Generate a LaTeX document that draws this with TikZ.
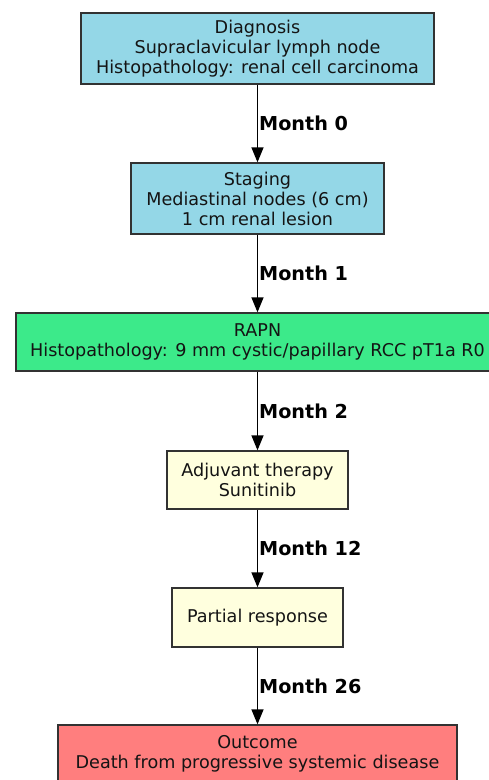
\documentclass[tikz,border=0pt]{standalone}
\usepackage{fontspec}
\setmainfont{DejaVu Sans}
\usetikzlibrary{arrows.meta}
\definecolor{stepblue}{RGB}{148,215,231}
\definecolor{stepgreen}{RGB}{60,234,138}
\definecolor{stepyellow}{RGB}{255,255,222}
\definecolor{stepred}{RGB}{255,126,126}
\definecolor{edge}{RGB}{50,50,50}
\definecolor{ink}{RGB}{20,20,20}

\begin{document}
\begin{tikzpicture}[x=1pt,y=-1pt,
    box/.style={draw=edge,line width=1.3pt,inner sep=0pt,align=center,text=ink,
      font=\fontsize{17.6}{20}\selectfont},
    flow/.style={-{Triangle[length=15pt,width=12pt]},line width=1.3pt,black},
    month/.style={anchor=west,inner sep=1pt,font=\fontsize{19.2}{21}\selectfont\bfseries}]
  \useasboundingbox (0,0) rectangle (489,780);
  \clip (0,0) rectangle (489,780);
  \def\cx{257.5}
  \node[box,fill=stepblue,minimum width=353,minimum height=71] (diag) at (\cx,48.5)
     {Diagnosis\\Supraclavicular lymph node\\Histopathology: renal cell carcinoma};
  \node[box,fill=stepblue,minimum width=253,minimum height=71] (stag) at (\cx,198.5)
     {Staging\\Mediastinal nodes (6 cm)\\1 cm renal lesion};
  \node[box,fill=stepgreen,minimum width=483,minimum height=58] (rapn) at (\cx,342)
     {RAPN\\Histopathology: 9 mm cystic/papillary RCC pT1a R0};
  \node[box,fill=stepyellow,minimum width=181,minimum height=58] (adju) at (\cx,480)
     {Adjuvant therapy\\Sunitinib};
  \node[box,fill=stepyellow,minimum width=171,minimum height=59] (part) at (\cx,617.5)
     {Partial response};
  \node[box,fill=stepred,minimum width=399,minimum height=58] (outc) at (\cx,754)
     {Outcome\\Death from progressive systemic disease};
  \foreach \a/\b/\m in {diag/stag/0, stag/rapn/1, rapn/adju/2, adju/part/12, part/outc/26}{
     \draw[flow] (\a) -- node[month] {Month \m} (\b);
  }
\end{tikzpicture}
\end{document}
